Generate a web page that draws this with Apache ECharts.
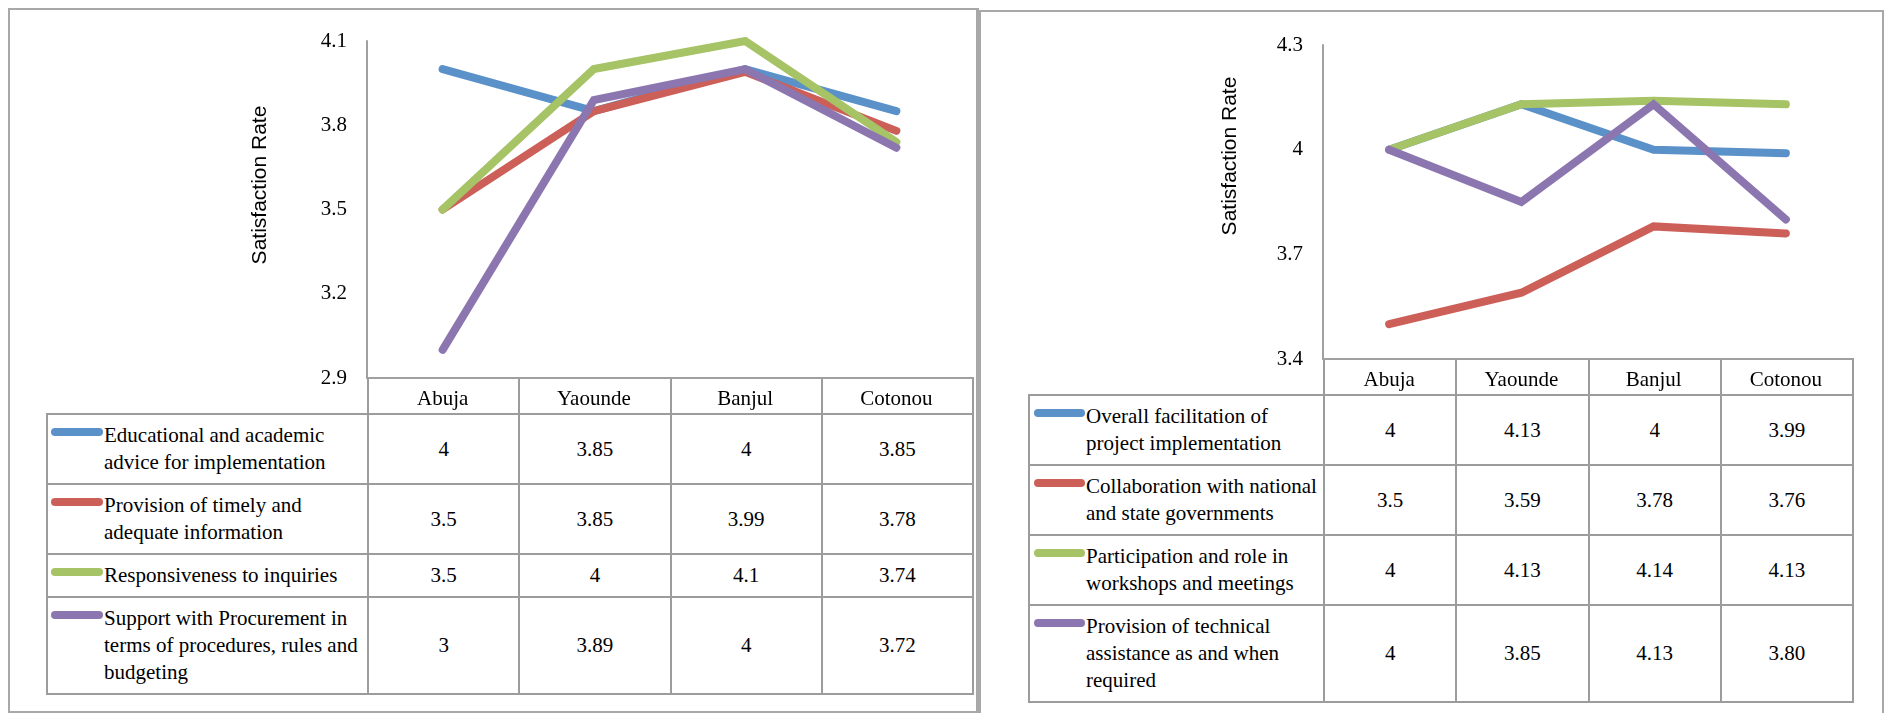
<!DOCTYPE html>
<html>
<head>
<meta charset="utf-8">
<script src="https://cdn.jsdelivr.net/npm/echarts@6/dist/echarts.min.js"></script>
<style>
html,body{margin:0;padding:0;background:#fff;width:1891px;height:713px;overflow:hidden;position:relative;}
.panel{position:absolute;box-sizing:border-box;border:2px solid #a8a8a8;}
#chart{position:absolute;left:0;top:0;width:1891px;height:713px;z-index:3;}
table.dt{position:absolute;border-collapse:collapse;table-layout:fixed;font-family:"Liberation Serif","Times New Roman",serif;font-size:21px;color:#000;z-index:1;}
table.dt td{border:2px solid #9c9c9c;padding:0;text-align:center;vertical-align:middle;line-height:27px;}
table.dt tr.hdr td{height:36px;border-top:none;}
table.dt td.blank{border-top:none;border-left:none;}
table.dt td.leg{text-align:left;vertical-align:top;padding:7px 0 7px 0;}
.lw{display:flex;align-items:flex-start;}
.mk{display:block;flex:none;height:8px;border-radius:4px;margin-top:6px;}
.lt{flex:none;}
</style>
</head>
<body>
<div class="panel" id="pL" style="left:8px;top:8px;width:971px;height:705px;border-right-width:3px;"></div>
<div class="panel" id="pR" style="left:979px;top:10px;width:905px;height:720px;"></div>
<table class="dt" id="tL"></table>
<table class="dt" id="tR"></table>
<div id="chart"></div>
<script>
// ---------- data ----------
const cities = ['Abuja', 'Yaounde', 'Banjul', 'Cotonou'];
const leftYTicks = [2.9, 3.2, 3.5, 3.8, 4.1];
const rightYTicks = [3.4, 3.7, 4, 4.3];
const axisTitle = 'Satisfaction Rate';

const leftNames = [
  'Educational and academic advice for implementation',
  'Provision of timely and adequate information',
  'Responsiveness to inquiries',
  'Support with Procurement in terms of procedures, rules and budgeting'
];
const eduAdvice      = [4, 3.85, 4, 3.85];
const timelyInfo     = [3.5, 3.85, 3.99, 3.78];
const responsiveness = [3.5, 4, 4.1, 3.74];
const procurement    = [3, 3.89, 4, 3.72];

const rightNames = [
  'Overall facilitation of project implementation',
  'Collaboration with national and state governments',
  'Participation and role in workshops and meetings',
  'Provision of technical assistance as and when required'
];
const facilitation  = [4, 4.13, 4, 3.99];
const collaboration = [3.5, 3.59, 3.78, 3.76];
const participation = [4, 4.13, 4.14, 4.13];
const techAssist    = [4, 3.85, 4.13, 3.80];
// table text as printed in the source (Cotonou value written "3.80")
const techAssistText = ['4', '3.85', '4.13', '3.80'];

const colors = ['#5B91C9', '#CD5F59', '#A6C366', '#8C76B0'];

// ---------- layout ----------
const L = {gridLeft: 367, gridTop: 41, gridW: 605, gridH: 337, tableLeft: 46, firstCol: 321, titleX: 260, titleY: 185, textW: 260, mkL: 3, mkW: 52};
const R = {gridLeft: 1323, gridTop: 45, gridW: 529, gridH: 314, tableLeft: 1028, firstCol: 295, titleX: 1230, titleY: 156, textW: 238, mkL: 4, mkW: 51};
const serif = '"Liberation Serif","Times New Roman",serif';
const sans = '"Liberation Sans",Arial,sans-serif';
const gray = '#a0a0a0';

function buildTable(id, cfg, names, rows, textOverrides) {
  const t = document.getElementById(id);
  const colW = cfg.gridW / cities.length;
  t.style.left = cfg.tableLeft + 'px';
  t.style.top = (cfg.gridTop + cfg.gridH - 1) + 'px';
  t.style.width = (cfg.firstCol + cfg.gridW) + 'px';
  let h = '<colgroup><col style="width:' + cfg.firstCol + 'px">' +
    cities.map(() => '<col style="width:' + colW + 'px">').join('') + '</colgroup>';
  h += '<tr class="hdr"><td class="blank"></td>' + cities.map(() => '<td></td>').join('') + '</tr>';
  rows.forEach((vals, i) => {
    const txt = (textOverrides && textOverrides[i]) ? textOverrides[i] : vals.map(v => String(v));
    h += '<tr><td class="leg"><div class="lw"><span class="mk" style="margin-left:' + cfg.mkL + 'px;width:' + cfg.mkW +
      'px;background:' + colors[i] + '"></span><div class="lt" style="width:' + cfg.textW + 'px;margin-left:1px">' + names[i] +
      '</div></div></td>' + txt.map(s => '<td>' + s + '</td>').join('') + '</tr>';
  });
  t.innerHTML = h;
}
buildTable('tL', L, leftNames, [eduAdvice, timelyInfo, responsiveness, procurement], null);
buildTable('tR', R, rightNames, [facilitation, collaboration, participation, techAssist], [null, null, null, techAssistText]);

// ---------- chart ----------
const chart = echarts.init(document.getElementById('chart'), null, {renderer: 'canvas'});

function xAxisOpt(gi) {
  return {
    type: 'category', gridIndex: gi, data: cities, boundaryGap: true,
    axisLine: {show: true, lineStyle: {color: gray, width: 2}},
    axisTick: {show: false}, splitLine: {show: false},
    axisLabel: {color: '#000', fontFamily: serif, fontSize: 21, margin: 11}
  };
}
function yAxisOpt(gi, ticks) {
  return {
    type: 'value', gridIndex: gi, min: ticks[0], max: ticks[ticks.length - 1],
    axisLine: {show: true, lineStyle: {color: gray, width: 2}},
    axisTick: {show: false}, splitLine: {show: false},
    axisLabel: {customValues: ticks, color: '#000', fontFamily: serif, fontSize: 21, margin: 20,
      formatter: v => String(Math.round(v * 100) / 100)}
  };
}
function lineSeries(name, data, ci, gi) {
  return {
    type: 'line', name: name, data: data, xAxisIndex: gi, yAxisIndex: gi,
    showSymbol: false, symbol: 'none', clip: true, silent: true,
    lineStyle: {color: colors[ci], width: 8, cap: 'round', join: 'miter'},
    itemStyle: {color: colors[ci]}
  };
}
function titleGraphic(cfg) {
  return {
    type: 'text', x: cfg.titleX, y: cfg.titleY, rotation: Math.PI / 2,
    style: {text: axisTitle, fontFamily: sans, fontSize: 21, fill: '#000', align: 'center', verticalAlign: 'middle'}
  };
}

chart.setOption({
  animation: false,
  grid: [
    {left: L.gridLeft, top: L.gridTop, width: L.gridW, height: L.gridH, containLabel: false},
    {left: R.gridLeft, top: R.gridTop, width: R.gridW, height: R.gridH, containLabel: false}
  ],
  xAxis: [xAxisOpt(0), xAxisOpt(1)],
  yAxis: [yAxisOpt(0, leftYTicks), yAxisOpt(1, rightYTicks)],
  series: [
    lineSeries(leftNames[0], eduAdvice, 0, 0),
    lineSeries(leftNames[1], timelyInfo, 1, 0),
    lineSeries(leftNames[2], responsiveness, 2, 0),
    lineSeries(leftNames[3], procurement, 3, 0),
    lineSeries(rightNames[0], facilitation, 0, 1),
    lineSeries(rightNames[1], collaboration, 1, 1),
    lineSeries(rightNames[2], participation, 2, 1),
    lineSeries(rightNames[3], techAssist, 3, 1)
  ],
  graphic: [titleGraphic(L), titleGraphic(R)]
});
</script>
</body>
</html>
